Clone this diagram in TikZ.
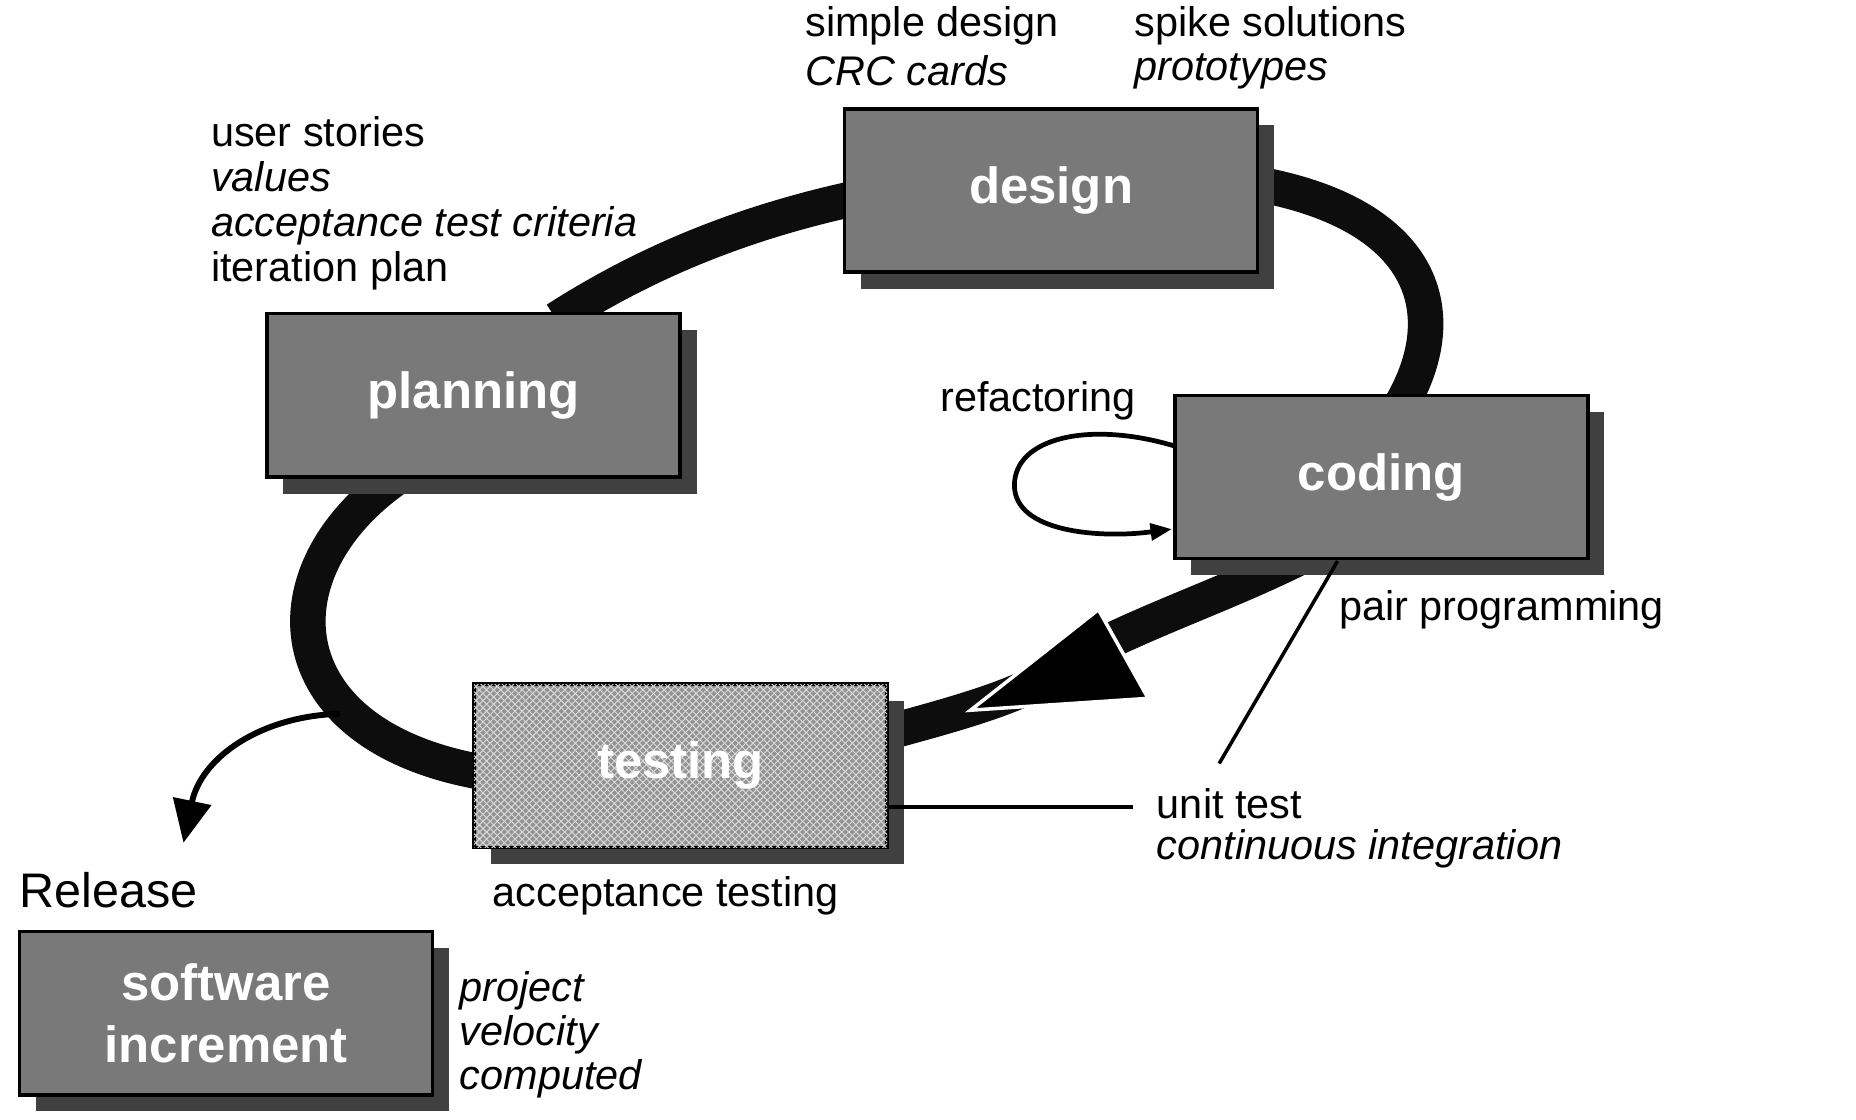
\documentclass[tikz,border=0pt]{standalone}
\usepackage{fontspec}
\setmainfont{Liberation Sans}
\usetikzlibrary{patterns,arrows.meta}
\begin{document}
\begin{tikzpicture}[x=0.5pt,y=-0.5pt,
 box/.style={draw=black,line width=1.5pt,fill=gray!95!black,minimum width=174.5pt,minimum height=69pt,inner sep=0pt,font=\fontsize{21.5}{24}\selectfont\bfseries,text=white,
   preaction={fill=black!75,transform canvas={xshift=7pt,yshift=-7pt}}},
 lbl/.style={anchor=west,inner sep=0pt,font=\fontsize{17.5}{19.5}\selectfont,align=left},
 loop/.style={line width=15pt,black!95}]
\useasboundingbox (0,0) rectangle (1568,946);
% loop
\draw[loop] (720,168) .. controls (620,190) and (540,225) .. (470,270);
\draw[loop] (1060,155) .. controls (1200,180) and (1230,260) .. (1185,340);
\draw[loop] (340,400) .. controls (220,480) and (230,620) .. (405,652);
\draw[loop] (745,620) .. controls (820,600) and (850,590) .. (880,575);
\draw[loop] (920,550) .. controls (980,520) and (1040,500) .. (1100,470);
\coordinate (t1) at (820,600); \coordinate (t2) at (928,515); \coordinate (t3) at (970,590);
\draw[fill=black,draw=white,line width=1.5pt] (t1) -- (t2) -- (t3) -- cycle;
% boxes
\node[box] (design) at (888,161) {design};
\node[box] (planning) at (400,334) {planning};
\node[box] (coding) at (1167,403) {coding};
\node[box,fill=gray!85,postaction={pattern=crosshatch,pattern color=white!70!gray}] (testing) at (575,647) {testing};
\node[box,align=center,font=\fontsize{21.5}{26}\selectfont\bfseries] (soft) at (191,856) {software\\increment};
% release arrow
\coordinate (r0) at (287,603); \coordinate (r1) at (155,712);
\draw[line width=2.5pt,-{Triangle[length=18pt,width=16pt]}] (r0) .. controls (220,605) and (170,640) .. (r1);
% refactoring loop
\coordinate (f0) at (993,377); \coordinate (f1) at (990,447);
\draw[line width=2pt,-{Triangle[length=9pt,width=7pt]}] (f0) .. controls (920,355) and (857,370) .. (857,410) .. controls (857,450) and (930,455) .. (f1);
% lines
\coordinate (pp) at (1030,645); \coordinate (ut) at (957,682);
\draw[line width=1.5pt] (1130,474) -- (pp);
\draw[line width=1.5pt] (testing.east |- ut) -- (ut);
% labels
\node[lbl] at (680,22) {simple design};
\node[lbl] at (680,60) {\itshape CRC cards};
\node[lbl] at (958,22) {spike solutions};
\node[lbl] at (958,60) {\itshape prototypes};
\node[lbl,font=\fontsize{17.5}{19}\selectfont] at (178,172) {user stories\\ \itshape values\\ \itshape acceptance test criteria\\iteration plan};
\node[lbl] at (794,339) {refactoring};
\node[lbl] at (1131,515) {pair programming};
\node[lbl] at (977,679) {unit test};
\node[lbl] at (977,717) {\itshape continuous integration};
\node[lbl] at (416,757) {acceptance testing};
\node[lbl,font=\fontsize{20.5}{22}\selectfont] at (16,752) {Release};
\node[lbl,font=\fontsize{17.5}{18.5}\selectfont\itshape] at (388,874) {project\\velocity\\computed};
\end{tikzpicture}
\end{document}
